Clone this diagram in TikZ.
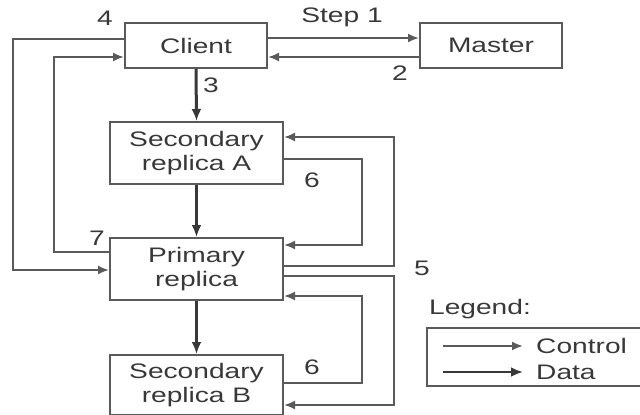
\documentclass[tikz,border=0pt]{standalone}
\usepackage{fontspec}
\setmainfont{Liberation Sans}[FakeStretch=1.34]
\usetikzlibrary{arrows.meta}
\definecolor{ink}{HTML}{383838}
\definecolor{wire}{HTML}{5A5A5A}
\tikzset{
  box/.style={draw=wire, line width=2pt, text=ink, align=center, inner sep=0pt},
  ctrl/.style={draw=wire, line width=1.9pt, -{Latex[length=11pt,width=9pt]}},
  data/.style={draw=ink, line width=3pt, -{Latex[length=12pt,width=10pt]}},
  lbl/.style={text=ink}
}
\begin{document}
\begin{tikzpicture}[x=1pt,y=-1pt,font=\fontsize{21}{24}\selectfont]
\useasboundingbox (0,0) rectangle (640,415);

\node[box, minimum width=142pt, minimum height=45pt] (client) at (196,45.5) {Client};
\node[box, minimum width=142pt, minimum height=45pt] (master) at (491,45.5) {Master};
\node[box, minimum width=173pt, minimum height=62pt] (seca) at (196.5,153) {Secondary\\replica A};
\node[box, minimum width=173pt, minimum height=62pt] (primary) at (196.5,269) {Primary\\replica};
\node[box, minimum width=173pt, minimum height=60pt] (secb) at (196.5,385) {Secondary\\replica B};

% client <-> master
\draw[ctrl] ([yshift=7.5pt]client.east) -- ([yshift=7.5pt]master.west);
\draw[ctrl] ([yshift=-11.5pt]master.west) -- ([yshift=-11.5pt]client.east);
\node[lbl] (s1) at (342,17) {Step 1};
\node[lbl] (s2) at (400,73) {2};

% data flow
\draw[data] (client.south) -- (seca.north);
\draw[data] (seca.south) -- (primary.north);
\draw[data] (primary.south) -- (secb.north);
\node[lbl] (s3) at (211,85) {3};

% left side
\draw[ctrl] ([yshift=6.5pt]client.west) -- ++(-111,0) |- ([yshift=-1pt]primary.west);
\draw[ctrl] ([yshift=17pt]primary.west) -- ++(-55,0) |- ([yshift=-11.5pt]client.west);
\node[lbl] (s4) at (105,18) {4};
\node[lbl] (s7) at (97,238) {7};

% right side
\draw[ctrl] ([yshift=3pt]primary.east) -- ++(110,0) |- ([yshift=16pt]seca.east);
\draw[ctrl] ([yshift=-6pt]seca.east) -- ++(78,0) |- ([yshift=24pt]primary.east);
\draw[ctrl] ([yshift=-7pt]primary.east) -- ++(110,0) |- ([yshift=-20pt]secb.east);
\draw[ctrl] ([yshift=2pt]secb.east) -- ++(78,0) |- ([yshift=-27pt]primary.east);
\node[lbl] (s5) at (422,268) {5};
\node[lbl] (s6a) at (312,180) {6};
\node[lbl] (s6b) at (312,367) {6};

% legend
\node[lbl] (legend) at (480,309) {Legend:};
\draw[wire, line width=2pt] (427,328) rectangle (660,386);
\coordinate (c0) at (443,346);
\coordinate (c1) at (523,346);
\coordinate (d0) at (443,372);
\coordinate (d1) at (523,372);
\draw[ctrl] (c0) -- (c1);
\draw[data, line width=2.6pt] (d0) -- (d1);
\node[lbl, anchor=west, inner sep=0pt] (lc) at (536,346) {Control};
\node[lbl, anchor=west, inner sep=0pt] (ld) at (536,372) {Data};
\end{tikzpicture}
\end{document}
